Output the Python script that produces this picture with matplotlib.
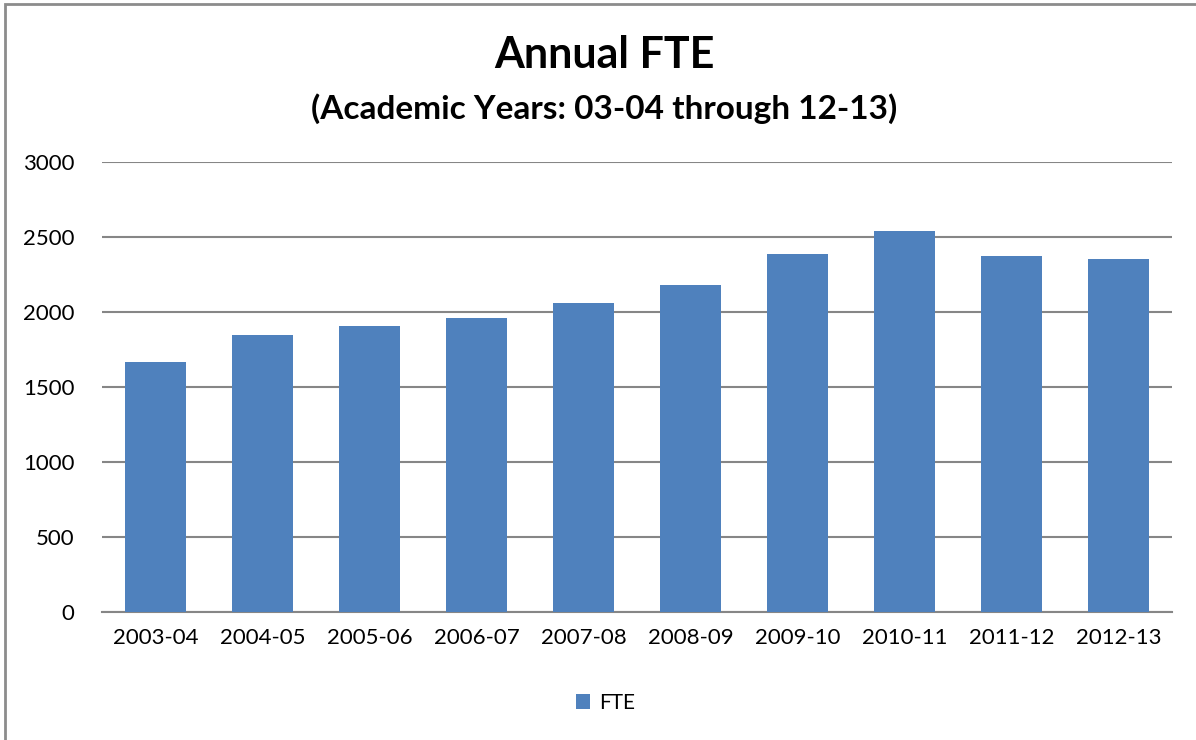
import numpy as np
import matplotlib.pyplot as plt
from matplotlib.patches import Rectangle

# Annual FTE by academic year
years = ["2003-04", "2004-05", "2005-06", "2006-07", "2007-08",
         "2008-09", "2009-10", "2010-11", "2011-12", "2012-13"]
fte = [1666, 1844, 1906, 1959, 2059, 2179, 2386, 2538, 2371, 2355]

BAR_COLOR = "#4F81BD"
GRID_COLOR = "#868686"

plt.rcParams['font.family'] = ['Lato', 'DejaVu Sans']

fig = plt.figure(figsize=(11.96, 7.40), dpi=100)
ax = fig.add_axes([0.0853, 0.1734, 0.8947, 0.6076])

x = np.arange(len(years))
ax.bar(x, fte, width=0.57, color=BAR_COLOR, label="FTE", zorder=3)

ax.set_xlim(-0.5, len(years) - 0.5)
ax.set_ylim(0, 3000)
ax.set_yticks(np.arange(0, 3001, 500))
ax.set_xticks(x)
ax.set_xticklabels(years)
ax.tick_params(axis="both", length=0, labelsize=16, colors="black")
ax.tick_params(axis="y", pad=20)
ax.tick_params(axis="x", pad=12)

ax.grid(axis="y", color=GRID_COLOR, linewidth=1.5, zorder=0)
for side in ["left", "right", "top"]:
    ax.spines[side].set_visible(False)
ax.spines["bottom"].set_color(GRID_COLOR)
ax.spines["bottom"].set_linewidth(1.5)

fig.text(0.505, 0.925, "Annual FTE", ha="center", va="center",
         fontsize=31, fontweight="bold")
fig.text(0.505, 0.853, "(Academic Years: 03-04 through 12-13)", ha="center",
         va="center", fontsize=24, fontweight="bold")

ax.legend(loc="center", bbox_to_anchor=(0.506, 0.05), bbox_transform=fig.transFigure,
          frameon=False, fontsize=15, handlelength=0.7, handleheight=0.7,
          handletextpad=0.4)

# outer chart border
fig.patches.append(Rectangle((5 / 1196, -0.1), 1.2, 1.1 - 4 / 740,
                             transform=fig.transFigure, fill=False,
                             edgecolor="#8C8C8C", linewidth=2))

fig.savefig("out.png", dpi=100)
